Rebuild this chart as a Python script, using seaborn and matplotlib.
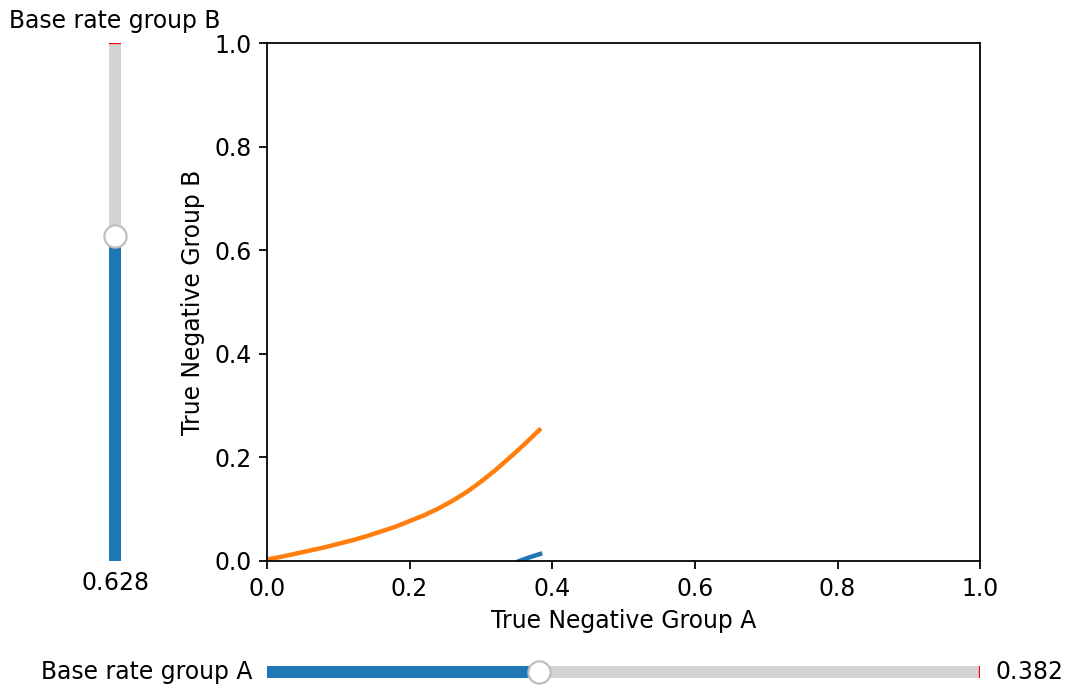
import seaborn as sns
import matplotlib
matplotlib.use("Agg")
import matplotlib.pyplot as plt
from matplotlib.widgets import Slider
import pandas as pd

# ----------------------------
# Data
# ----------------------------
tn_a_orange = [0.0, 0.02, 0.04, 0.06, 0.08, 0.10, 0.12, 0.14, 0.16, 0.18, 0.20,
               0.22, 0.24, 0.26, 0.28, 0.30, 0.32, 0.34, 0.36, 0.382]
tn_b_orange = [0.003, 0.008, 0.014, 0.020, 0.026, 0.033, 0.040, 0.048, 0.057, 0.066, 0.077,
               0.088, 0.101, 0.116, 0.133, 0.153, 0.175, 0.199, 0.224, 0.253]

tn_a_blue = [0.354, 0.368, 0.383]
tn_b_blue = [0.0, 0.007, 0.0135]

base_rate_a = 0.382
base_rate_b = 0.628

orange_df = pd.DataFrame({"x": tn_a_orange, "y": tn_b_orange})
blue_df = pd.DataFrame({"x": tn_a_blue, "y": tn_b_blue})

plt.rcParams["font.size"] = 10.6

# ----------------------------
# Figure and axes
# ----------------------------
fig = plt.figure(figsize=(1076 / 160, 696 / 160), dpi=160)
ax = fig.add_axes([0.248, 0.194, 0.663, 0.744])

sns.lineplot(data=blue_df, x="x", y="y", ax=ax, color="#1f77b4", lw=2)
sns.lineplot(data=orange_df, x="x", y="y", ax=ax, color="#ff7f0e", lw=2)

ax.set_xlim(0, 1)
ax.set_ylim(0, 1)
ax.set_xlabel("True Negative Group A")
ax.set_ylabel("True Negative Group B")

# ----------------------------
# Sliders (initial value 1.0, then moved)
# ----------------------------
ax_b = fig.add_axes([0.0957, 0.194, 0.0223, 0.744])
slider_b = Slider(ax_b, "Base rate group B", 0.0, 1.0, valinit=1.0,
                  orientation="vertical")
slider_b.set_val(base_rate_b)

ax_a = fig.add_axes([0.248, 0.017, 0.663, 0.0345])
slider_a = Slider(ax_a, "Base rate group A", 0.0, 1.0, valinit=1.0)
slider_a.set_val(base_rate_a)

plt.savefig("out.png", dpi=160)
plt.close()
